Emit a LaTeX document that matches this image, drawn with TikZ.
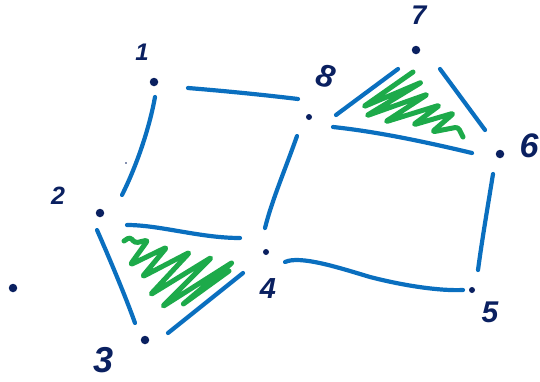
\documentclass[tikz,border=0pt]{standalone}
\usepackage{fontspec}
\setmainfont{Liberation Sans}
\definecolor{edgeblue}{HTML}{0A6FBF}
\definecolor{navy}{HTML}{0A2060}
\definecolor{hatch}{HTML}{1DAA4A}
\begin{document}
\begin{tikzpicture}[x=1pt,y=-1pt,
  edge/.style={draw=edgeblue,line width=4.2pt,line cap=round},
  scrib/.style={draw=hatch,line width=5pt,line cap=round,line join=round,rounded corners=3pt},
  vert/.style={circle,fill=navy,inner sep=0pt,minimum size=8.5pt},
  svert/.style={circle,fill=navy,inner sep=0pt,minimum size=6pt},
  lab/.style={text=navy,inner sep=0pt,font=\bfseries\itshape}]
\useasboundingbox (0,0) rectangle (540,381);

% vertices
\node[vert]  (v1) at (154,82) {};
\node[svert] (v8) at (309,117) {};
\node[vert]  (v7) at (416,50) {};
\node[vert]  (v6) at (500,154) {};
\node[vert]  (v2) at (100,213) {};
\node[svert] (v4) at (266,252) {};
\node[svert] (v5) at (472,290) {};
\node[vert]  (v3) at (145,340) {};
\node[vert]  (vx) at (13,288) {};
\node[circle,fill=navy,inner sep=0pt,minimum size=1.8pt] (sp) at (126,163) {};

% labels
\node[lab,font=\fontsize{24}{24}\selectfont\bfseries\itshape] (l1) at (142,52) {1};
\node[lab,font=\fontsize{32}{32}\selectfont\bfseries\itshape,rotate=-15] (l8) at (326,76) {8};
\node[lab,font=\fontsize{27}{27}\selectfont\bfseries\itshape] (l7) at (419,15) {7};
\node[lab,font=\fontsize{34}{34}\selectfont\bfseries\itshape] (l6) at (529,146) {6};
\node[lab,font=\fontsize{25}{25}\selectfont\bfseries\itshape] (l2) at (58,196) {2};
\node[lab,font=\fontsize{29}{29}\selectfont\bfseries\itshape] (l4) at (268,289) {4};
\node[lab,font=\fontsize{30}{30}\selectfont\bfseries\itshape] (l5) at (490,312) {5};
\node[lab,font=\fontsize{36}{36}\selectfont\bfseries\itshape] (l3) at (104,360) {3};

% edge end points
\coordinate (e18a) at (188,88);  \coordinate (e18b) at (298,99);
\coordinate (e12a) at (155,97);  \coordinate (e12b) at (122,195);
\coordinate (e87a) at (336,115); \coordinate (e87b) at (398,69);
\coordinate (e76a) at (440,69);  \coordinate (e76b) at (485,130);
\coordinate (e86a) at (333,127); \coordinate (e86b) at (472,153);
\coordinate (e84a) at (297,136); \coordinate (e84b) at (265,228);
\coordinate (e65a) at (493,174); \coordinate (e65b) at (478,270);
\coordinate (e45a) at (285,262); \coordinate (e45b) at (463,290);
\coordinate (e24a) at (127,225); \coordinate (e24b) at (240,238);
\coordinate (e23a) at (97,230);  \coordinate (e23b) at (135,323);
\coordinate (e34a) at (168,333); \coordinate (e34b) at (243,273);

% edges
\draw[edge] (e18a) .. controls (225,91) and (265,95) .. (e18b);
\draw[edge] (e12a) .. controls (150,125) and (138,163) .. (e12b);
\draw[edge] (e87a) -- (e87b);
\draw[edge] (e76a) -- (e76b);
\draw[edge] (e86a) .. controls (380,132) and (430,143) .. (e86b);
\draw[edge] (e84a) .. controls (285,170) and (272,200) .. (e84b);
\draw[edge] (e65a) .. controls (488,205) and (482,240) .. (e65b);
\draw[edge] (e45a) .. controls (300,255) and (340,268) .. (370,277) .. controls (405,286) and (440,291) .. (e45b);
\draw[edge] (e24a) .. controls (160,225) and (200,238) .. (e24b);
\draw[edge] (e23a) .. controls (108,255) and (125,295) .. (e23b);
\draw[edge] (e34a) -- (e34b);

% scribbles
\draw[scrib] (124,241) -- (130,237) -- (135,243) -- (148,240) -- (130,265) -- (167,247)
  -- (142,277) -- (190,252) -- (150,295) -- (212,257) -- (162,307) -- (233,262)
  -- (182,305) -- (229,271);
\draw[scrib] (413,72) -- (363,107) -- (422,82) -- (366,116) -- (428,94) -- (385,122)
  -- (440,105) -- (413,125) -- (454,113) -- (432,132) -- (458,127) -- (463,137);
\end{tikzpicture}
\end{document}
